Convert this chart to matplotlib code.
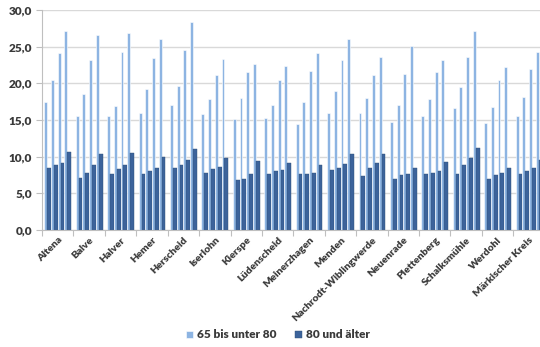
import numpy as np
import matplotlib
matplotlib.use("Agg")
import matplotlib.pyplot as plt
from matplotlib.ticker import FuncFormatter, FixedLocator

# Anteil der Bevölkerung je Altersgruppe (in %), vier Zeitpunkte je Gemeinde
gemeinden = ["Altena", "Balve", "Halver", "Hemer", "Herscheid", "Iserlohn",
             "Kierspe", "Lüdenscheid", "Meinerzhagen", "Menden",
             "Nachrodt-Wiblingwerde", "Neuenrade", "Plettenberg",
             "Schalksmühle", "Werdohl", "Märkischer Kreis"]

anteil_65_80 = [
    [17.4, 20.5, 24.2, 27.1],
    [15.5, 18.6, 23.2, 26.6],
    [15.6, 16.9, 24.3, 26.9],
    [16.0, 19.2, 23.5, 26.1],
    [17.1, 19.7, 24.5, 28.4],
    [15.8, 17.9, 21.2, 23.3],
    [15.2, 18.0, 21.5, 22.6],
    [15.3, 17.1, 20.5, 22.4],
    [14.4, 17.4, 21.7, 24.1],
    [16.0, 19.0, 23.2, 26.0],
    [16.0, 18.0, 21.1, 23.6],
    [14.7, 17.0, 21.3, 25.1],
    [15.5, 17.8, 21.5, 23.2],
    [16.6, 19.5, 23.6, 27.1],
    [14.6, 16.8, 20.4, 22.2],
    [15.6, 18.2, 22.0, 24.3],
]

anteil_80_plus = [
    [8.5, 8.8, 9.2, 10.7],
    [7.1, 7.8, 8.8, 10.4],
    [7.7, 8.3, 8.9, 10.5],
    [7.6, 8.0, 8.5, 10.0],
    [8.4, 8.8, 9.5, 11.1],
    [7.8, 8.3, 8.6, 9.8],
    [6.8, 7.0, 7.7, 9.4],
    [7.7, 8.0, 8.2, 9.1],
    [7.6, 7.6, 7.8, 8.9],
    [8.2, 8.4, 9.0, 10.3],
    [7.4, 8.4, 9.2, 10.4],
    [6.9, 7.5, 7.7, 8.5],
    [7.6, 7.8, 8.0, 9.3],
    [7.7, 8.8, 9.8, 11.2],
    [7.0, 7.5, 7.8, 8.5],
    [7.7, 8.1, 8.4, 9.6],
]

hell = "#8DB4E2"
dunkel = "#3C639B"
text_farbe = "#3A3A3A"
schrift = ["Lato", "DejaVu Sans"]

fig = plt.figure(figsize=(5.4, 3.47), dpi=100)
ax = fig.add_axes([42 / 540, 1 - 230 / 347, 502.7 / 540, 220 / 347])

hell_arr = np.array(anteil_65_80)
dunkel_arr = np.array(anteil_80_plus)
n = len(gemeinden)

start = 0.075
paar = 0.213
b_hell = 0.092
b_dunkel = 0.121

for j in range(4):
    x_h = np.arange(n) + start + j * paar
    ax.bar(x_h, hell_arr[:, j], width=b_hell, align="edge", color=hell,
           edgecolor="white", linewidth=0.4, zorder=2,
           label="65 bis unter 80" if j == 0 else None)
    ax.bar(x_h + b_hell, dunkel_arr[:, j], width=b_dunkel, align="edge",
           color=dunkel, edgecolor="#2F5078", linewidth=0.3, zorder=2,
           label="80 und älter" if j == 0 else None)

ax.set_xlim(0, n)
ax.set_ylim(0, 30)
ax.set_yticks(np.arange(0, 31, 5))
ax.yaxis.set_major_formatter(FuncFormatter(lambda v, p: f"{v:.1f}".replace(".", ",")))
ax.yaxis.grid(True, color="#D9D9D9", linewidth=1.0, zorder=0)
ax.set_axisbelow(True)

ax.xaxis.set_major_locator(FixedLocator(np.arange(n + 1)))
ax.xaxis.set_minor_locator(FixedLocator(np.arange(n) + 0.5))
ax.set_xticklabels([], minor=False)
ax.set_xticklabels(gemeinden, minor=True, rotation=45, ha="right",
                   rotation_mode="anchor", fontsize=7.5, fontweight="heavy",
                   color=text_farbe, family=schrift)
ax.tick_params(axis="x", which="minor", length=0, pad=4)
ax.tick_params(axis="x", which="major", length=4, color="#BFBFBF", direction="out")
ax.tick_params(axis="y", length=4, color="#BFBFBF", labelsize=8.5,
               labelcolor=text_farbe, pad=3)
for lbl in ax.get_yticklabels():
    lbl.set_fontweight("heavy")
    lbl.set_family(schrift)

for s in ["top", "right"]:
    ax.spines[s].set_visible(False)
ax.spines["left"].set_color("#BFBFBF")
ax.spines["bottom"].set_color("#BFBFBF")

fig.legend(loc="center", bbox_to_anchor=(278 / 540, 1 - 335 / 347), ncol=2,
           frameon=False, handlelength=0.6, handleheight=0.6,
           handletextpad=0.4, columnspacing=1.5,
           prop={"family": schrift, "weight": "heavy", "size": 8.5},
           labelcolor=text_farbe)

fig.savefig("out.png", dpi=100)
